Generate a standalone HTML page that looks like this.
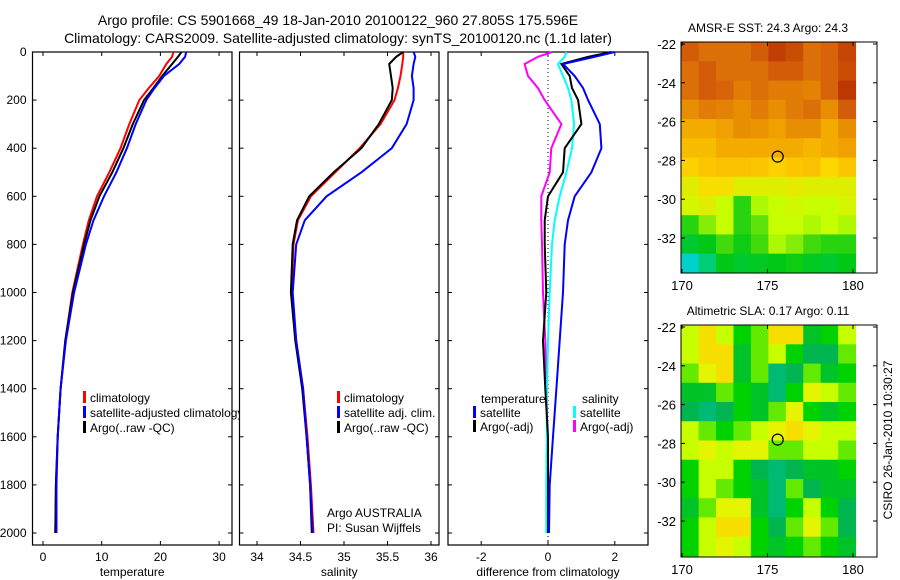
<!DOCTYPE html>
<html><head><meta charset="utf-8">
<style>
body{margin:0;background:#fff;}
svg{display:block;font-family:"Liberation Sans",sans-serif;}
text{fill:#000;}
</style></head>
<body>
<svg id="fig" width="900" height="580" viewBox="0 0 900 580">
<rect width="900" height="580" fill="#fff"/>
<text x="338" y="25" font-size="14" text-anchor="middle">Argo profile: CS 5901668_49 18-Jan-2010 20100122_960 27.805S 175.596E</text>
<text x="338" y="43" font-size="14" text-anchor="middle">Climatology: CARS2009. Satellite-adjusted climatology: synTS_20100120.nc (1.1d later)</text>
<g id="g1"></g><g id="g2"></g><g id="g3"></g><g id="m1"></g><g id="m2"></g>
<text transform="translate(892,440) rotate(-90)" font-size="12" text-anchor="middle">CSIRO 26-Jan-2010 10:30:27</text>
</svg>
<script>
const depths=[0,20,50,100,150,200,300,400,500,600,700,800,1000,1200,1400,1600,1800,2000];
const tempClim=[22.2,22,21,19.8,18,16.4,14.7,13.2,11.3,9.2,7.8,6.8,5,3.8,3,2.5,2.2,2.1];
const tempSat=[24.4,24.2,23.2,20.6,19,17.6,15.8,14.3,12.5,10.4,8.6,7.3,5.3,3.9,3.0,2.5,2.3,2.3];
const tempArgo=[23.6,23,22,20.3,18.8,17.2,15.3,13.7,11.8,9.6,8.1,7,5.1,3.8,3.0,2.5,2.2,2.1];
const salClim=[35.68,35.68,35.67,35.65,35.62,35.58,35.42,35.18,34.9,34.62,34.47,34.42,34.4,34.45,34.53,34.58,34.62,34.65];
const salSat=[35.8,35.82,35.8,35.78,35.8,35.8,35.72,35.55,35.2,34.8,34.55,34.45,34.41,34.45,34.53,34.57,34.61,34.64];
const salArgo=[35.68,35.6,35.52,35.54,35.56,35.55,35.4,35.2,34.88,34.6,34.46,34.41,34.39,34.44,34.52,34.57,34.61,34.63];
const dTempSat=[2.0,1.4,0.45,0.8,1.05,1.2,1.55,1.6,1.3,0.8,0.6,0.5,0.45,0.35,0.25,0.15,0.05,0.03];
const dTempArgo=[1.9,1.2,0.4,0.65,0.72,0.9,1.0,0.5,0.45,0.0,-0.1,-0.1,-0.05,-0.15,-0.08,0,0,0];
const dSalSat=[0.55,0.5,0.3,0.45,0.6,0.7,0.78,0.72,0.55,0.35,0.2,0.12,0.05,0.0,-0.03,-0.04,-0.05,-0.05];
const dSalArgo=[0.12,-0.3,-0.7,-0.6,-0.3,-0.1,0.4,0.1,0.05,-0.2,-0.2,-0.18,-0.15,-0.08,-0.04,-0.02,0,0];
const depthTicks=[0,200,400,600,800,1000,1200,1400,1600,1800,2000];
const tempTicks=[0,10,20,30];
const salTicks=[34,34.5,35,35.5,36];
const diffTicks=[-2,0,2];
const sstGrid=[
[26.3,26,26,26,26.3,26.7,26.5,26,26.2,26.6],
[26,26.3,26,26,26,26.3,26.3,26,26.2,26.5],
[26,26.3,26.2,25.8,26,25.8,25.8,25.7,26.2,26.8],
[25.5,25.8,25.7,25.5,25.8,25.5,25.8,26,25.5,26.3],
[25,25,25.2,25.5,25.4,25.2,25.5,25.5,25,25.5],
[24.7,24.7,25,25,25,25,25,24.8,25,25.2],
[24.3,24.5,24.6,24.6,24.5,24.3,24.5,24.6,24.2,24.5],
[23.5,24,24,23.5,23.5,23.5,23.6,23.5,23.5,23.5],
[23.3,23.5,23,21.8,22.8,23,23.2,23,23,23.3],
[21.8,22.5,23,21.8,22.2,23,23,22.8,23,22.8],
[21.3,21.5,22,21.6,22,22.8,22.5,22,21.8,21.8],
[20.2,20.8,21.5,21.3,21.4,21.5,21.6,21.4,21.3,21.5]];
const slaGrid=[
[0.15,0.25,0.15,0.05,0.1,0.25,0.25,0.0,0.05,0.15],
[0.15,0.25,0.25,0.0,0.1,0.15,0.05,-0.05,-0.05,0.1],
[0.1,0.2,0.25,0.0,0.1,-0.1,-0.05,0.1,0.0,0.05],
[0.0,0.0,0.1,0.05,0.0,-0.1,0.05,0.2,0.15,0.1],
[-0.05,-0.1,-0.05,0.05,0.0,0.1,0.2,0.05,0.0,0.05],
[0.15,0.1,0.05,0.1,0.15,0.2,0.25,0.2,0.15,0.15],
[0.15,0.2,0.15,0.2,0.2,0.1,0.1,0.15,0.15,0.1],
[0.05,0.15,0.15,0.05,-0.05,-0.1,-0.05,0.0,0.0,0.05],
[0.05,0.15,0.1,0.05,0.0,-0.1,0.1,-0.05,0.0,0.0],
[0.0,0.1,0.2,0.2,0.0,-0.1,0.05,0.15,0.05,-0.05],
[0.05,0.15,0.25,0.25,0.05,-0.05,0.1,0.2,0.1,-0.05],
[0.05,0.15,0.2,0.15,0.05,0.0,0.05,0.1,0.05,0.0]];
const lonTicks=[170,175,180];
const latTicks=[-22,-24,-26,-28,-30,-32];

const NS='http://www.w3.org/2000/svg';
function mk(parent,tag,attrs){const e=document.createElementNS(NS,tag);for(const k in attrs)e.setAttribute(k,attrs[k]);parent.appendChild(e);return e;}
const yD=d=>52+0.2405*d;
const PT=52,PB=545;

function panel(gid,L,R,xf,ticks,lbl,name,showY){
  const g=document.getElementById(gid);
  mk(g,'rect',{x:L,y:PT,width:R-L,height:PB-PT,fill:'#fff',stroke:'#000','stroke-width':1.2});
  ticks.forEach(t=>{const x=xf(t);
    mk(g,'line',{x1:x,x2:x,y1:PB,y2:PB-4,stroke:'#000'});
    mk(g,'line',{x1:x,x2:x,y1:PT,y2:PT+4,stroke:'#000'});
    const tx=mk(g,'text',{x:x,y:PB+16,'font-size':12,'text-anchor':'middle'});tx.textContent=t;
    
    
  });
  depthTicks.forEach(d=>{const y=yD(d);
    mk(g,'line',{x1:L,x2:L+4,y1:y,y2:y,stroke:'#000'});
    mk(g,'line',{x1:R,x2:R-4,y1:y,y2:y,stroke:'#000'});
    if(showY){const t=mk(g,'text',{x:L-6,y:y+4,'font-size':12,'text-anchor':'end'});t.textContent=d;
      
      }
  });
  const t=mk(g,'text',{x:(L+R)/2,y:576,'font-size':12,'text-anchor':'middle'});t.textContent=lbl;
  
  
  
  
  return g;
}
function line(g,xs,xf,color,name){
  const pts=xs.map((v,i)=>xf(v).toFixed(1)+','+yD(depths[i]).toFixed(1)).join(' ');
  const p=mk(g,'polyline',{points:pts,fill:'none',stroke:color,'stroke-width':2});
  
  
}
function legend(g,x,y,color,label){
  mk(g,'rect',{x:x,y:y-6,width:3,height:12,fill:color});
  const t=mk(g,'text',{x:x+7,y:y+5,'font-size':12});t.textContent=label;
  
  
}
// panel 1
const xT=v=>43+5.87*v;
const g1=panel('g1',32.5,232,xT,tempTicks,'temperature','x-axis-title-temperature',true);
line(g1,tempClim,xT,'#f00','temp-climatology-line');
line(g1,tempArgo,xT,'#000','temp-argo-line');
line(g1,tempSat,xT,'#00f','temp-satellite-line');
legend(g1,83,397,'#f00','climatology');
legend(g1,83,412,'#00f','satellite-adjusted climatology');
legend(g1,83,427,'#000','Argo(..raw -QC)');
// panel 2
const xS=v=>257+87*(v-34);
const g2=panel('g2',239.5,439,xS,salTicks,'salinity','x-axis-title-salinity',false);
line(g2,salClim,xS,'#f00','sal-climatology-line');
line(g2,salArgo,xS,'#000','sal-argo-line');
line(g2,salSat,xS,'#00f','sal-satellite-line');
legend(g2,337,397,'#f00','climatology');
legend(g2,337,412,'#00f','satellite adj. clim.');
legend(g2,337,427,'#000','Argo(..raw -QC)');
let t=mk(g2,'text',{x:327,y:517,'font-size':12});t.textContent='Argo AUSTRALIA';


t=mk(g2,'text',{x:327,y:532,'font-size':12});t.textContent='PI: Susan Wijffels';


// panel 3
const xDf=v=>548+33.4*v;
const g3=panel('g3',448,648,xDf,diffTicks,'difference from climatology','x-axis-title-difference',false);
mk(g3,'line',{x1:xDf(0),x2:xDf(0),y1:PT,y2:PB,stroke:'#000','stroke-dasharray':'1,3'});
line(g3,dSalArgo,xDf,'#f0f','diff-sal-argo-line');
line(g3,dSalSat,xDf,'#0ff','diff-sal-satellite-line');
line(g3,dTempArgo,xDf,'#000','diff-temp-argo-line');
line(g3,dTempSat,xDf,'#00f','diff-temp-satellite-line');
t=mk(g3,'text',{x:481,y:403,'font-size':12});t.textContent='temperature';


t=mk(g3,'text',{x:582,y:403,'font-size':12});t.textContent='salinity';


legend(g3,473,412,'#00f','satellite');
legend(g3,473,426,'#000','Argo(-adj)');
legend(g3,573,412,'#0ff','satellite');
legend(g3,573,426,'#f0f','Argo(-adj)');

// maps
function lerpColor(stops,v){
  if(v<=stops[0][0])return stops[0][1];
  for(let i=1;i<stops.length;i++){if(v<=stops[i][0]){const a=stops[i-1],b=stops[i],f=(v-a[0])/(b[0]-a[0]);
    return 'rgb('+[0,1,2].map(k=>Math.round(a[1][k]+(b[1][k]-a[1][k])*f)).join(',')+')';}}
  return stops[stops.length-1][1];
}
function toRgb(c){return typeof c==='string'?c:'rgb('+c.join(',')+')';}
const sstStops=[[20,[0,210,230]],[21.5,[0,200,20]],[23,[200,255,0]],[24.2,[255,215,0]],[25.2,[240,160,0]],[26.2,[215,100,10]],[27,[180,40,0]]];
const slaStops=[[-0.15,[0,190,150]],[-0.05,[0,180,80]],[0.05,[0,210,0]],[0.15,[200,255,0]],[0.22,[240,240,0]],[0.3,[255,195,0]]];
function map(gid,top,bottom,title,grid,stops,name){
  const g=document.getElementById(gid);
  
  
  const L=681,R=877;
  const xL=v=>682+17.1*(v-170);
  const yL=v=>top+2+19.4*(-22-v);
  mk(g,'rect',{x:L,y:top,width:R-L,height:bottom-top,fill:'#fff'});
  const lon0=169.95,lon1=180.15,lat0=-21.9,lat1=-33.8;
  const nr=grid.length,nc=grid[0].length;
  for(let r=0;r<nr;r++)for(let c=0;c<nc;c++){
    const x0=xL(lon0+(lon1-lon0)*c/nc),x1=xL(lon0+(lon1-lon0)*(c+1)/nc);
    const y0=yL(lat0+(lat1-lat0)*r/nr),y1=yL(lat0+(lat1-lat0)*(r+1)/nr);
    const cell=mk(g,'rect',{x:x0,y:y0,width:x1-x0+0.5,height:y1-y0+0.5,fill:toRgb(lerpColor(stops,grid[r][c]))});
    
    
  }
  mk(g,'rect',{x:L,y:top,width:R-L,height:bottom-top,fill:'none',stroke:'#000','stroke-width':1});
  lonTicks.forEach(v=>{const x=xL(v);
    mk(g,'line',{x1:x,x2:x,y1:bottom,y2:bottom-4,stroke:'#000'});
    mk(g,'line',{x1:x,x2:x,y1:top,y2:top+4,stroke:'#000'});
    const tx=mk(g,'text',{x:x,y:bottom+17,'font-size':13,'text-anchor':'middle'});tx.textContent=v;
    
    });
  latTicks.forEach(v=>{const y=yL(v);
    mk(g,'line',{x1:L,x2:L+4,y1:y,y2:y,stroke:'#000'});
    mk(g,'line',{x1:R,x2:R-4,y1:y,y2:y,stroke:'#000'});
    const tx=mk(g,'text',{x:L-5,y:y+5,'font-size':13,'text-anchor':'end'});tx.textContent=v;
    
    });
  const c=mk(g,'circle',{cx:xL(175.596),cy:yL(-27.805),r:5.5,fill:'none',stroke:'#000','stroke-width':1.2});
  
  
  const tt=mk(g,'text',{x:768,y:top-10,'font-size':12,'text-anchor':'middle'});tt.textContent=title;
  
  
}
map('m1',42,273,'AMSR-E SST: 24.3 Argo: 24.3',sstGrid,sstStops,'sst-map');
map('m2',325,557,'Altimetric SLA: 0.17 Argo: 0.11',slaGrid,slaStops,'sla-map');
</script>
</body></html>
